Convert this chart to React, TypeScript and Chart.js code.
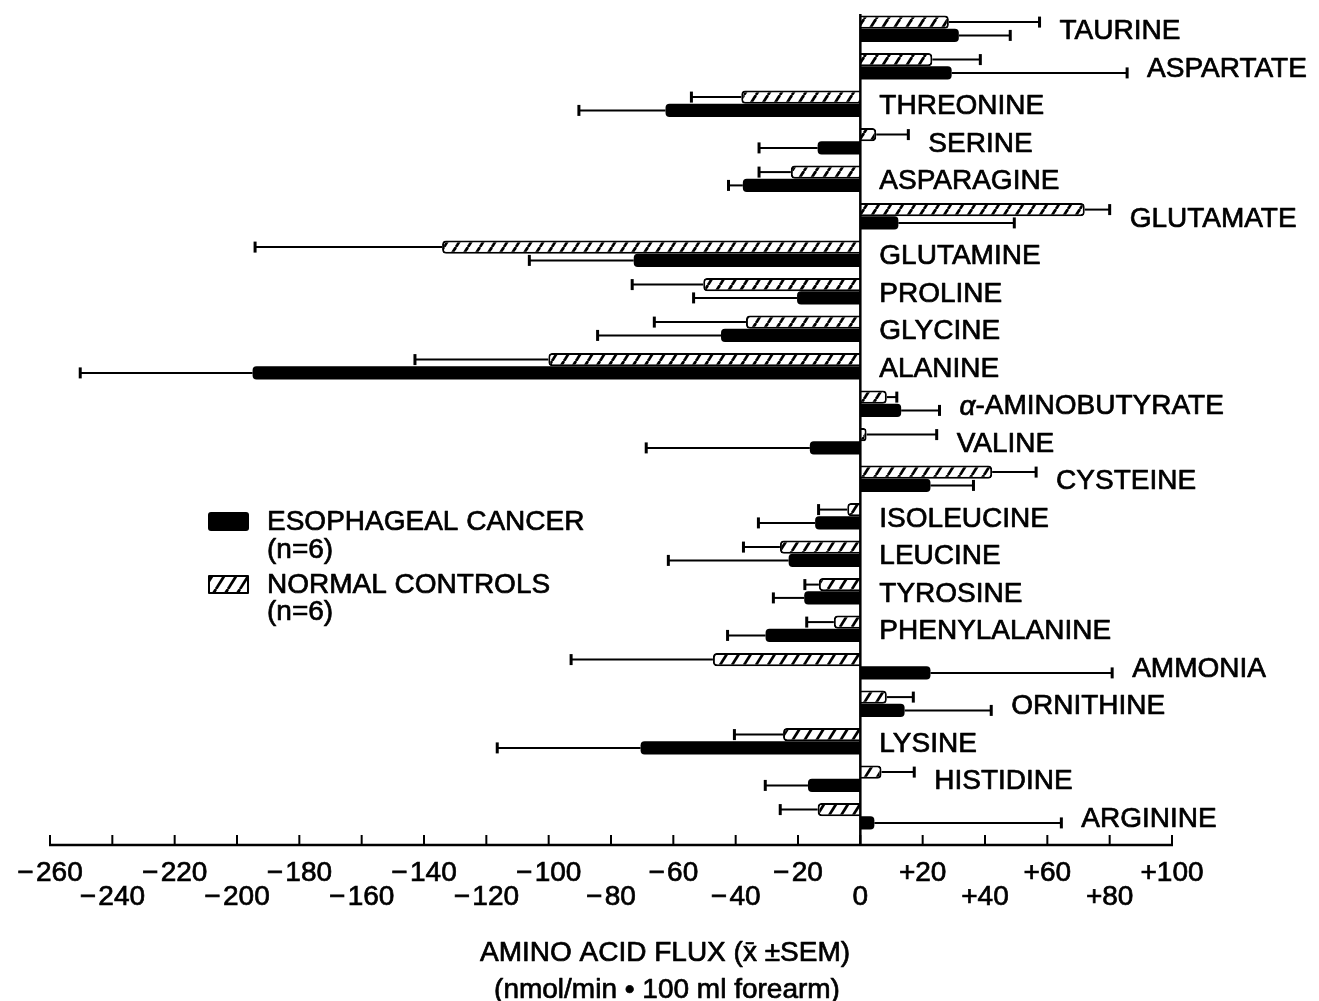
import { useEffect, useRef } from 'react';
import { Chart, registerables } from 'chart.js';

Chart.register(...registerables);

const categories = [
  'TAURINE', 'ASPARTATE', 'THREONINE', 'SERINE', 'ASPARAGINE', 'GLUTAMATE',
  'GLUTAMINE', 'PROLINE', 'GLYCINE', 'ALANINE', 'α-AMINOBUTYRATE', 'VALINE',
  'CYSTEINE', 'ISOLEUCINE', 'LEUCINE', 'TYROSINE', 'PHENYLALANINE', 'AMMONIA',
  'ORNITHINE', 'LYSINE', 'HISTIDINE', 'ARGININE',
];

// Normal controls (hatched): mean and SEM
const controlMeans = [28.4, 23.1, -38.2, 5.1, -22.3, 72, -134.2, -50.4, -36.7, -100.1, 8.5, 2, 42.3, -4.2, -25.8, -13.3, -8.5, -47.3, 8.5, -24.8, 6.8, -13.7];
const controlSem = [29.1, 15.4, 16, 10.3, 10.2, 8, 60, 22.8, 29.4, 42.8, 3.2, 22.5, 14.1, 9.2, 11.7, 4.5, 8.7, 45.5, 8.5, 15.6, 10.5, 12];

// Esophageal cancer (solid): mean and SEM
const cancerMeans = [31.6, 29.3, -62.5, -13.7, -37.7, 12.2, -72.7, -20.3, -44.7, -195, 13.1, -16.2, 22.5, -14.5, -23, -18, -30.4, 22.5, 14.2, -70.5, -16.8, 4.5];
const cancerSem = [16.5, 56.3, 27.8, 18.8, 4.6, 37.2, 33.5, 33.2, 39.6, 55.3, 12.3, 52.5, 13.8, 18.2, 38.6, 9.9, 12.2, 58.3, 27.8, 46, 13.7, 60];

const tickMin = -260;
const tickMax = 100;
const tickStep = 20;

const legendLabels = ['ESOPHAGEAL CANCER', 'NORMAL CONTROLS'];
const legendSub = '(n=6)';
const axisTitle = ['AMINO ACID FLUX (x\u0304 \u00b1SEM)', '(nmol/min \u2022 100 ml forearm)'];

const FAMILY = '"Liberation Sans", Arial, Helvetica, sans-serif';
const STROKE = 0.7;

function makeHatch(): CanvasPattern | string {
  const c = document.createElement('canvas');
  c.width = 12;
  c.height = 19;
  const g = c.getContext('2d');
  if (!g) return '#fff';
  g.fillStyle = '#fff';
  g.fillRect(0, 0, 12, 19);
  g.strokeStyle = '#000';
  g.lineWidth = 2.8;
  for (const off of [-12, 0, 12]) {
    g.beginPath();
    g.moveTo(off, 19);
    g.lineTo(off + 12, 0);
    g.stroke();
  }
  return g.createPattern(c, 'repeat') || '#fff';
}

function text(ctx: CanvasRenderingContext2D, s: string, x: number, y: number) {
  ctx.fillText(s, x, y);
  ctx.strokeText(s, x, y);
}

export default function App() {
  const ref = useRef<HTMLCanvasElement | null>(null);

  useEffect(() => {
    document.body.style.margin = '0';
    document.body.style.overflow = 'hidden';
    document.body.style.background = '#fff';
    const canvas = ref.current;
    if (!canvas) return;
    const hatch = makeHatch();

    const overlay = {
      id: 'overlay',
      afterDatasetsDraw(chart: any) {
        const ctx: CanvasRenderingContext2D = chart.ctx;
        const xs = chart.scales.x;
        const ys = chart.scales.y;
        const area = chart.chartArea;
        ctx.save();
        ctx.strokeStyle = '#000';
        ctx.fillStyle = '#000';
        ctx.lineCap = 'butt';

        // error bars
        const sets: [number[], number[]][] = [[controlMeans, controlSem], [cancerMeans, cancerSem]];
        sets.forEach(([m, s], d) => {
          const meta = chart.getDatasetMeta(d);
          meta.data.forEach((el: any, i: number) => {
            const v = m[i];
            const end = v >= 0 ? v + s[i] : v - s[i];
            const x0 = xs.getPixelForValue(v);
            const x1 = xs.getPixelForValue(end);
            const y = el.y;
            ctx.lineWidth = 2;
            ctx.beginPath();
            ctx.moveTo(x0, y);
            ctx.lineTo(x1, y);
            ctx.stroke();
            ctx.lineWidth = 3;
            ctx.beginPath();
            ctx.moveTo(x1, y - 5.5);
            ctx.lineTo(x1, y + 5.5);
            ctx.stroke();
          });
        });

        // zero line and bottom axis
        const zx = xs.getPixelForValue(0);
        const axisY = area.bottom + 10;
        ctx.lineWidth = 2.5;
        ctx.beginPath();
        ctx.moveTo(zx, area.top + 4);
        ctx.lineTo(zx, axisY);
        ctx.stroke();
        ctx.beginPath();
        ctx.moveTo(xs.left - 1, axisY);
        ctx.lineTo(xs.right + 1, axisY);
        ctx.stroke();
        ctx.lineWidth = 2;
        xs.ticks.forEach((t: any) => {
          const px = xs.getPixelForValue(t.value);
          ctx.beginPath();
          ctx.moveTo(px, axisY);
          ctx.lineTo(px, axisY - 10);
          ctx.stroke();
        });

        // category labels
        ctx.textBaseline = 'middle';
        ctx.textAlign = 'left';
        ctx.lineWidth = STROKE;
        ctx.lineJoin = 'round';
        categories.forEach((name, i) => {
          let anchor = 0;
          [[controlMeans, controlSem], [cancerMeans, cancerSem]].forEach(([m, s]) => {
            if (m[i] > 0) anchor = Math.max(anchor, m[i] + s[i]);
          });
          const lx = xs.getPixelForValue(anchor) + (anchor > 0 ? 20 : 19);
          const ly = ys.getPixelForValue(i) + 3;
          if (name.startsWith('α')) {
            ctx.font = `italic 28px ${FAMILY}`;
            text(ctx, 'α', lx, ly);
            const w = ctx.measureText('α').width;
            ctx.font = `28px ${FAMILY}`;
            text(ctx, name.slice(1), lx + w, ly);
          } else {
            ctx.font = `28px ${FAMILY}`;
            text(ctx, name, lx, ly);
          }
        });

        // legend
        ctx.fillStyle = '#000';
        ctx.beginPath();
        (ctx as any).roundRect ? (ctx as any).roundRect(208, 512, 41, 19, 3) : ctx.rect(208, 512, 41, 19);
        ctx.fill();
        ctx.fillStyle = hatch as any;
        ctx.fillRect(209, 576, 39, 17);
        ctx.lineWidth = 2;
        ctx.strokeStyle = '#000';
        ctx.strokeRect(209, 576, 39, 17);
        ctx.fillStyle = '#000';
        ctx.lineWidth = STROKE;
        ctx.font = `28px ${FAMILY}`;
        text(ctx, legendLabels[0], 267, 522);
        text(ctx, legendSub, 267, 550);
        text(ctx, legendLabels[1], 267, 585);
        text(ctx, legendSub, 267, 612);

        // axis title
        ctx.textAlign = 'center';
        text(ctx, axisTitle[0], 665, 953);
        text(ctx, axisTitle[1], 667, 990);
        ctx.restore();
      },
    };

    const chart = new Chart(canvas, {
      type: 'bar',
      data: {
        labels: categories,
        datasets: [
          {
            label: legendLabels[1],
            data: controlMeans,
            backgroundColor: hatch as any,
            borderColor: '#000',
            borderWidth: 2,
            borderSkipped: 'start',
            borderRadius: 4,
          },
          {
            label: legendLabels[0],
            data: cancerMeans,
            backgroundColor: '#000',
            borderColor: '#000',
            borderWidth: 0,
            borderSkipped: 'start',
            borderRadius: 4,
          },
        ],
      },
      options: {
        indexAxis: 'y',
        responsive: false,
        animation: false,
        events: [],
        layout: { padding: { left: 50, right: 147, top: 10, bottom: 76 } },
        datasets: { bar: { barPercentage: 1, categoryPercentage: 0.71 } },
        plugins: { legend: { display: false }, tooltip: { enabled: false }, title: { display: false } },
        scales: {
          y: { type: 'category', display: false, grid: { display: false } },
          x: {
            type: 'linear',
            position: 'bottom',
            min: tickMin,
            max: tickMax,
            grid: { display: false, drawTicks: false },
            border: { display: false },
            afterFit: (s: any) => { s.height = 90; },
            ticks: {
              stepSize: tickStep,
              autoSkip: false,
              maxRotation: 0,
              minRotation: 0,
              padding: 3,
              color: '#000',
              textStrokeColor: '#000',
              textStrokeWidth: STROKE,
              font: { family: FAMILY, size: 28, lineHeight: 0.84 },
              callback: (v: any, i: number) => {
                const n = Number(v);
                const s = n < 0 ? '\u2212\u200a' + Math.abs(n) : n > 0 ? '+' + n : '0';
                return i % 2 === 0 ? ['', s, ''] : ['', '', s];
              },
            },
          },
        },
      },
      plugins: [overlay],
    } as any);

    return () => chart.destroy();
  }, []);

  return (
    <div style={{ width: 1319, height: 1001, position: 'relative', background: '#fff' }}>
      <canvas ref={ref} width={1319} height={1001} style={{ width: 1319, height: 1001, display: 'block' }} />
    </div>
  );
}
